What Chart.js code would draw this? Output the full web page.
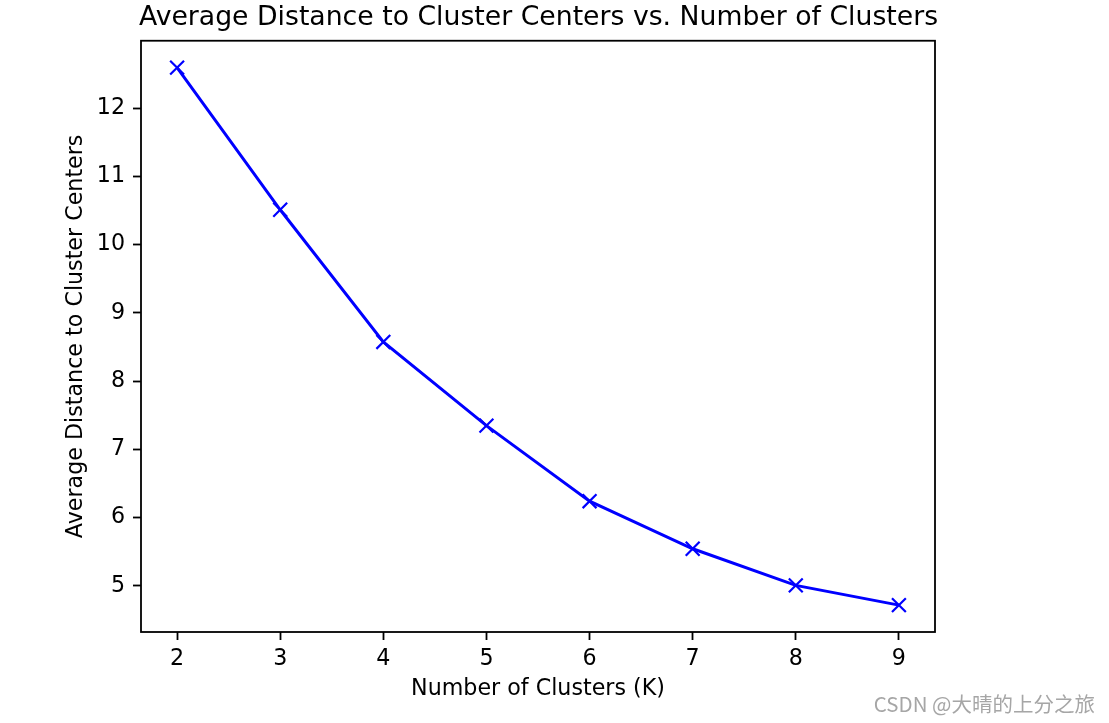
<!DOCTYPE html>
<html>
<head>
<meta charset="utf-8">
<script src="https://cdn.jsdelivr.net/npm/chart.js@4/dist/chart.umd.min.js"></script>
<style>
  html, body { margin: 0; padding: 0; background: #ffffff; }
  #wrap { position: relative; width: 1109px; height: 723px; }
  #c { position: absolute; left: 0; top: 0; }
  #wm { position: absolute; right: 14px; top: 689px; font-family: "Noto Sans CJK SC", "DejaVu Sans", sans-serif; font-size: 20.5px; color: #a6a6a6; line-height: 28px; white-space: nowrap; }
</style>
</head>
<body>
<div id="wrap">
  <canvas id="c" width="1109" height="723"></canvas>
  <div id="wm">CSDN @大晴的上分之旅</div>
</div>
<script>
// ---- data ----
const clusterCounts = [2, 3, 4, 5, 6, 7, 8, 9];
const avgDistances = [12.594, 10.511, 8.574, 7.348, 6.240, 5.543, 5.006, 4.717];
const xTickValues = [2, 3, 4, 5, 6, 7, 8, 9];
const xTickLabels = ['2', '3', '4', '5', '6', '7', '8', '9'];
const yTickValues = [5, 6, 7, 8, 9, 10, 11, 12];
const yTickLabels = ['5', '6', '7', '8', '9', '10', '11', '12'];
const titleText = 'Average Distance to Cluster Centers vs. Number of Clusters';
const xAxisTitle = 'Number of Clusters (K)';
const yAxisTitle = 'Average Distance to Cluster Centers';

const points = clusterCounts.map((k, i) => ({ x: k, y: avgDistances[i] }));

const FONT = '"DejaVu Sans", sans-serif';

const framePlugin = {
  id: 'frame',
  afterDraw(chart) {
    const { ctx, chartArea: a } = chart;
    ctx.save();
    ctx.strokeStyle = '#000000';
    ctx.lineWidth = 1.8;
    ctx.strokeRect(a.left, a.top, a.right - a.left, a.bottom - a.top);
    ctx.restore();
  }
};

function setTicks(values) {
  return function (scale) {
    scale.ticks = values.map(v => ({ value: v }));
  };
}

new Chart(document.getElementById('c'), {
  type: 'scatter',
  data: {
    datasets: [{
      data: points,
      showLine: true,
      borderColor: '#0000ff',
      backgroundColor: '#0000ff',
      borderWidth: 3,
      pointStyle: 'crossRot',
      pointRadius: 9.8,
      pointHoverRadius: 9.8,
      pointBorderWidth: 2.2,
      pointBorderColor: '#0000ff',
      tension: 0,
      clip: false
    }]
  },
  options: {
    responsive: false,
    animation: false,
    devicePixelRatio: 1,
    layout: { padding: { left: 71, right: 103, top: 0, bottom: 0 } },
    plugins: {
      legend: { display: false },
      tooltip: { enabled: false },
      title: {
        display: true,
        text: titleText,
        color: '#000000',
        font: { family: FONT, size: 26.7, weight: 'normal', lineHeight: 1.2 },
        padding: { top: 2, bottom: 6.7 }
      }
    },
    scales: {
      x: {
        type: 'linear',
        min: 1.65,
        max: 9.35,
        afterBuildTicks: setTicks(xTickValues),
        afterFit(scale) { scale.height = 91; },
        border: { display: false },
        grid: { display: true, drawOnChartArea: false, drawTicks: true, tickLength: 8, tickWidth: 1.8, tickColor: '#000000' },
        ticks: {
          color: '#000000',
          padding: 6,
          maxRotation: 0,
          autoSkip: false,
          font: { family: FONT, size: 22.2 },
          callback: (v) => xTickLabels[xTickValues.indexOf(v)]
        },
        title: {
          display: true,
          text: xAxisTitle,
          color: '#000000',
          font: { family: FONT, size: 22.2, lineHeight: 1.2 },
          padding: { top: 0, bottom: 20 }
        }
      },
      y: {
        type: 'linear',
        min: 4.323,
        max: 12.988,
        afterBuildTicks: setTicks(yTickValues),
        afterFit(scale) { scale.width = 70; },
        border: { display: false },
        grid: { display: true, drawOnChartArea: false, drawTicks: true, tickLength: 8, tickWidth: 1.8, tickColor: '#000000' },
        ticks: {
          color: '#000000',
          padding: 8,
          autoSkip: false,
          font: { family: FONT, size: 22.2 },
          callback: (v) => yTickLabels[yTickValues.indexOf(v)]
        },
        title: {
          display: true,
          text: yAxisTitle,
          color: '#000000',
          font: { family: FONT, size: 22.2, lineHeight: 1.2 },
          padding: { top: -8.3, bottom: 0 }
        }
      },
      spacer: {
        type: 'linear',
        position: 'right',
        display: true,
        afterFit(scale) { scale.width = 71; },
        border: { display: false },
        grid: { display: false, drawTicks: false },
        ticks: { display: false }
      }
    }
  },
  plugins: [framePlugin]
});
</script>
</body>
</html>
